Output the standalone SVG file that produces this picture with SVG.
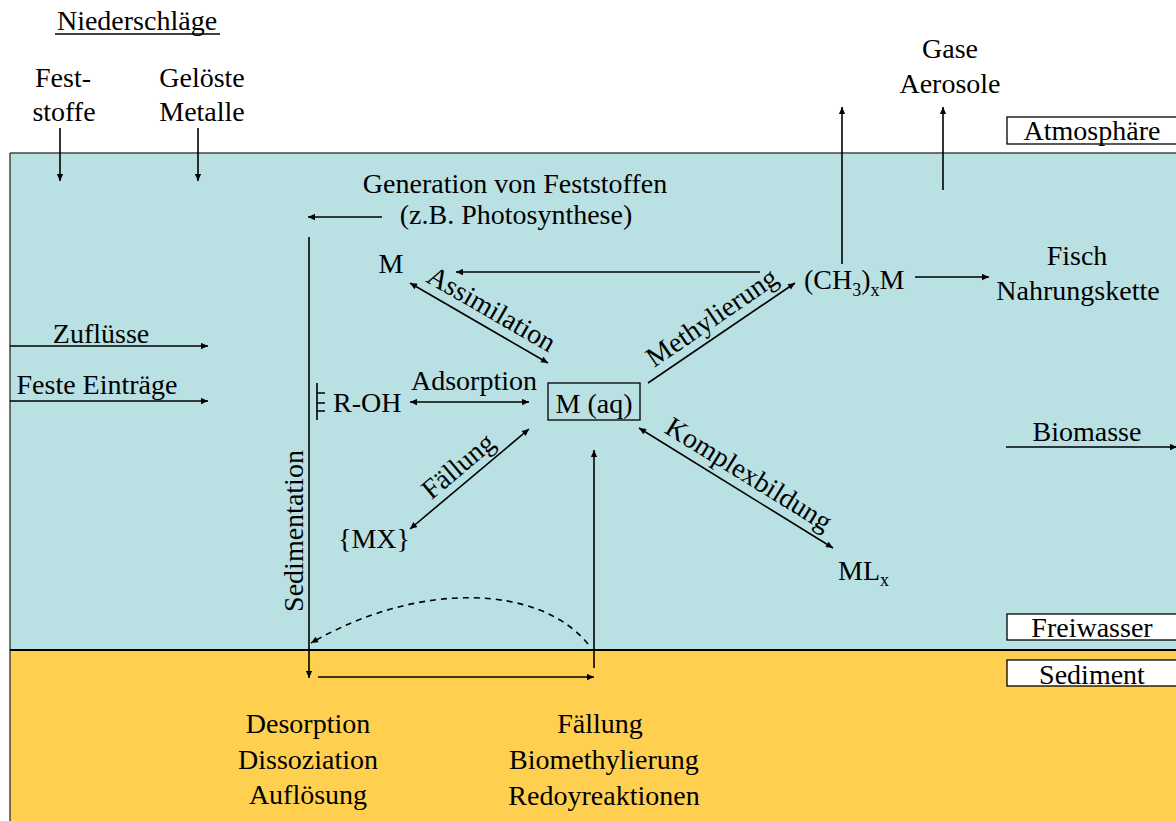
<svg xmlns="http://www.w3.org/2000/svg" width="1176" height="821" viewBox="0 0 1176 821" font-family="'Liberation Serif', 'Times New Roman', serif">
<style>
text{font-family:'Liberation Serif','Times New Roman',serif;font-size:28px;fill:#000}
.c{text-anchor:middle}
.sub{font-size:18px}
.ln{stroke:#000;stroke-width:1.6;fill:none}
.box{fill:#fff;stroke:#000;stroke-width:1.3}
</style>
<defs>
<marker id="ah" viewBox="0 0 10 10" refX="10" refY="5" markerWidth="9" markerHeight="7" orient="auto-start-reverse" markerUnits="userSpaceOnUse"><path d="M0,0.5 L10,5 L0,9.5 z" fill="#000"/></marker>
</defs>
<rect x="0" y="0" width="1176" height="821" fill="#fff"/>
<g id="water"><rect x="10" y="153" width="1180" height="497" fill="#B9E0E3"/><line x1="10" y1="153" x2="1176" y2="153" stroke="#444" stroke-width="1.5"/><line x1="10" y1="153" x2="10" y2="650" stroke="#444" stroke-width="1.5"/></g>
<g id="sediment"><rect x="10" y="650" width="1180" height="180" fill="#FFD04F"/><line x1="10" y1="650" x2="10" y2="821" stroke="#444" stroke-width="1.5"/><line x1="10" y1="650" x2="1176" y2="650" stroke="#000" stroke-width="2"/></g>

<g id="niederschlaege"><text class="c" x="137" y="30">Niederschläge</text><line x1="55" y1="34" x2="220" y2="34" stroke="#000" stroke-width="1.3"/></g>
<g id="feststoffe"><text class="c" x="63" y="87">Fest-</text><text class="c" x="64" y="121">stoffe</text></g>
<g id="geloeste"><text class="c" x="202" y="87">Gelöste</text><text class="c" x="202" y="121">Metalle</text></g>
<g id="gase"><text class="c" x="950" y="58">Gase</text><text class="c" x="950" y="93">Aerosole</text></g>
<g id="atmosphaere"><rect class="box" x="1007" y="117" width="180" height="27"/><text class="c" x="1092" y="140">Atmosphäre</text></g>
<g id="freiwasser"><rect class="box" x="1007" y="614" width="180" height="26"/><text class="c" x="1092" y="637">Freiwasser</text></g>
<g id="sediment-label"><rect class="box" x="1007" y="660" width="180" height="26"/><text class="c" x="1092" y="684">Sediment</text></g>

<g id="generation"><text class="c" x="515" y="193">Generation von Feststoffen</text><text class="c" x="516" y="224">(z.B. Photosynthese)</text></g>
<g id="m"><text class="c" x="391" y="273">M</text></g>
<g id="ch3xm"><text x="804" y="289">(CH<tspan class="sub" dy="7">3</tspan><tspan dy="-7">)</tspan><tspan class="sub" dy="7">x</tspan><tspan dy="-7">M</tspan></text></g>
<g id="fisch"><text class="c" x="1077" y="265">Fisch</text><text class="c" x="1078" y="300">Nahrungskette</text></g>
<g id="zufluesse"><text class="c" x="101" y="343">Zuflüsse</text></g>
<g id="feste-eintraege"><text class="c" x="97" y="394">Feste Einträge</text></g>
<g id="roh"><path class="ln" d="M317,383 V420 M317,393 H325 M317,403 H325 M317,411 H325" stroke-width="1.3"/><text x="333" y="412">R-OH</text></g>
<g id="maq"><rect x="548" y="383" width="92" height="37" fill="none" stroke="#000" stroke-width="1.3"/><text class="c" x="594" y="413">M (aq)</text></g>
<g id="mx"><text class="c" x="374" y="548">{MX}</text></g>
<g id="mlx"><text x="838" y="580">ML<tspan class="sub" dy="6">x</tspan></text></g>
<g id="biomasse"><text class="c" x="1087" y="441">Biomasse</text></g>
<g id="desorption"><text class="c" x="308" y="733">Desorption</text><text class="c" x="308" y="769">Dissoziation</text><text class="c" x="308" y="804">Auflösung</text></g>
<g id="faellung-sed"><text class="c" x="600" y="733">Fällung</text><text class="c" x="604" y="769">Biomethylierung</text><text class="c" x="604" y="805">Redoyreaktionen</text></g>

<g id="labels">
<text class="c" transform="translate(487,317) rotate(30)">Assimilation</text>
<text class="c" x="474" y="390">Adsorption</text>
<text class="c" transform="translate(717,325) rotate(-34.4)">Methylierung</text>
<text class="c" transform="translate(464,473) rotate(-40)">Fällung</text>
<text class="c" transform="translate(744,482) rotate(31.8)">Komplexbildung</text>
<text class="c" transform="translate(303,531) rotate(-90)">Sedimentation</text>
</g>

<g id="connectors">
<line class="ln" x1="60" y1="128" x2="60" y2="181" marker-end="url(#ah)"/>
<line class="ln" x1="198" y1="128" x2="198" y2="181" marker-end="url(#ah)"/>
<line class="ln" x1="842" y1="264" x2="842" y2="107" marker-end="url(#ah)"/>
<line class="ln" x1="943" y1="190" x2="943" y2="107" marker-end="url(#ah)"/>
<line class="ln" x1="382" y1="217" x2="308" y2="217" marker-end="url(#ah)"/>
<line class="ln" x1="309" y1="237" x2="309" y2="678" marker-end="url(#ah)"/>
<line class="ln" x1="760" y1="272" x2="456" y2="272" marker-end="url(#ah)"/>
<line class="ln" x1="915" y1="277" x2="989" y2="277" marker-end="url(#ah)"/>
<line class="ln" x1="410" y1="283" x2="548" y2="363" marker-start="url(#ah)" marker-end="url(#ah)"/>
<line class="ln" x1="648" y1="383" x2="795" y2="283" marker-end="url(#ah)"/>
<line class="ln" x1="410" y1="402" x2="529" y2="402" marker-start="url(#ah)" marker-end="url(#ah)"/>
<line class="ln" x1="410" y1="529" x2="529" y2="429" marker-start="url(#ah)" marker-end="url(#ah)"/>
<line class="ln" x1="639" y1="428" x2="833" y2="548" marker-start="url(#ah)" marker-end="url(#ah)"/>
<line class="ln" x1="10" y1="346" x2="208" y2="346" marker-end="url(#ah)"/>
<line class="ln" x1="10" y1="401" x2="208" y2="401" marker-end="url(#ah)"/>
<line class="ln" x1="1006" y1="447" x2="1177" y2="447" marker-end="url(#ah)"/>
<line class="ln" x1="594" y1="668" x2="594" y2="450" marker-end="url(#ah)"/>
<line class="ln" x1="318" y1="677" x2="594" y2="677" marker-end="url(#ah)"/>
<path class="ln" d="M588,644 C540,585 420,580 311,643" stroke-dasharray="6,5" marker-end="url(#ah)"/>
</g>
</svg>
